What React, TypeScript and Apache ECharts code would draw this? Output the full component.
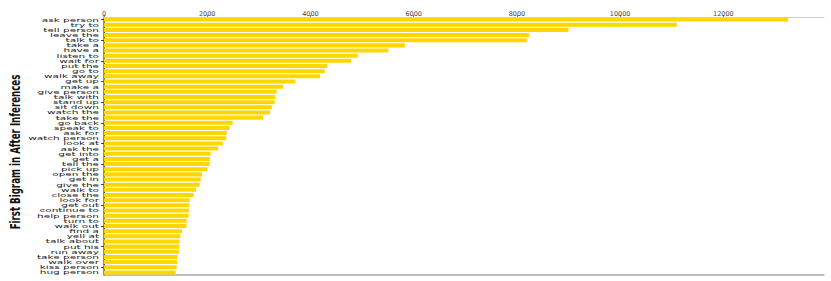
import React, { useEffect, useRef } from "react";
import * as echarts from "echarts";

const categories = [
  "ask person", "try to", "tell person", "leave the", "talk to", "take a", "have a",
  "listen to", "wait for", "put the", "go to", "walk away", "get up", "make a",
  "give person", "talk with", "stand up", "sit down", "watch the", "take the",
  "go back", "speak to", "ask for", "watch person", "look at", "ask the",
  "get into", "get a", "tell the", "pick up", "open the", "get in", "give the",
  "walk to", "close the", "look for", "get out", "continue to", "help person",
  "turn to", "walk out", "find a", "yell at", "talk about", "put his", "run away",
  "take person", "walk over", "kiss person", "hug person",
];

const counts = [
  13256, 11100, 9000, 8237, 8192, 5830, 5511,
  4917, 4787, 4328, 4277, 4186, 3708, 3469,
  3347, 3320, 3308, 3250, 3217, 3081,
  2494, 2436, 2378, 2370, 2300, 2215,
  2067, 2054, 2048, 2003, 1899, 1874, 1854,
  1783, 1738, 1660, 1655, 1647, 1640,
  1602, 1598, 1512, 1480, 1466, 1460, 1453,
  1421, 1418, 1408, 1389,
];

const axisTitle = "First Bigram in After Inferences";
const xMax = 13950;
const xInterval = 2000;

export default function App() {
  const ref = useRef<HTMLDivElement>(null);
  useEffect(() => {
    if (!ref.current) return;
    document.body.style.margin = "0";
    document.documentElement.style.overflow = "hidden";
    const chart = echarts.init(ref.current, undefined, { renderer: "svg" });

    const titleFont = {
      text: axisTitle,
      fontSize: 14,
      fontWeight: "bold" as const,
      fontFamily: "DejaVu Sans Condensed, DejaVu Sans",
    };
    let titleScale = 0.6;
    try {
      const t = new (echarts.graphic as any).Text({ style: titleFont });
      const r = t.getBoundingRect();
      if (r && r.width > 0) titleScale = 155 / r.width;
    } catch (e) {}

    chart.setOption({
      animation: false,
      backgroundColor: "#ffffff",
      grid: {
        left: 104,
        right: 7,
        top: 17,
        bottom: 6,
        show: false,
        containLabel: false,
      },
      xAxis: [
        {
          type: "value",
          position: "top",
          min: 0,
          max: xMax,
          interval: xInterval,
          splitLine: { show: false },
          axisLine: { show: true, lineStyle: { color: "#d0d0d0", width: 1 } },
          axisTick: { show: true, length: 2, lineStyle: { color: "#888" } },
          axisLabel: {
            fontSize: 6.5,
            color: "#444",
            fontFamily: "DejaVu Sans",
            margin: 0,
            showMaxLabel: false,
            formatter: (v: number) => String(v),
          },
        },
        {
          type: "value",
          position: "bottom",
          min: 0,
          max: xMax,
          interval: xInterval,
          splitLine: { show: false },
          axisLine: { show: true, lineStyle: { color: "#a8a8a8", width: 1.5 } },
          axisTick: { show: false },
          axisLabel: { show: false },
        },
      ],
      yAxis: [
        {
          type: "category",
          data: categories,
          inverse: true,
          axisLine: { show: true, lineStyle: { color: "#222", width: 1 } },
          axisTick: { show: true, length: 3, alignWithLabel: true, lineStyle: { color: "#444" } },
          axisLabel: { show: false },
          splitLine: { show: false },
        },
        {
          type: "category",
          data: categories,
          inverse: true,
          position: "right",
          axisLine: { show: true, lineStyle: { color: "#666", width: 1.5 } },
          axisTick: { show: false },
          axisLabel: { show: false },
        },
      ],
      series: [
        {
          type: "bar",
          data: counts,
          xAxisIndex: 0,
          yAxisIndex: 0,
          barCategoryGap: "22%",
          itemStyle: { color: "#FFD700" },
        },
        {
          type: "custom",
          xAxisIndex: 0,
          yAxisIndex: 0,
          clip: false,
          silent: true,
          data: categories.map((c, i) => [0, i]),
          renderItem: (params: any, api: any) => {
            const p = api.coord([0, api.value(1)]);
            return {
              type: "text",
              x: p[0] - 5,
              y: p[1],
              scaleY: 0.52,
              style: {
                text: categories[params.dataIndex],
                fontSize: 10.5,
                fontFamily: "DejaVu Sans",
                fill: "#222",
                align: "right",
                verticalAlign: "middle",
              },
            };
          },
        },
      ],
      graphic: [
        {
          type: "text",
          x: 15,
          y: 152,
          rotation: Math.PI / 2,
          scaleX: titleScale,
          style: {
            ...titleFont,
            fill: "#111",
            align: "center",
            verticalAlign: "middle",
          },
        },
      ],
    });
    return () => chart.dispose();
  }, []);
  return (
    <div
      ref={ref}
      style={{ position: "absolute", left: 0, top: 0, width: 831, height: 281 }}
    />
  );
}
